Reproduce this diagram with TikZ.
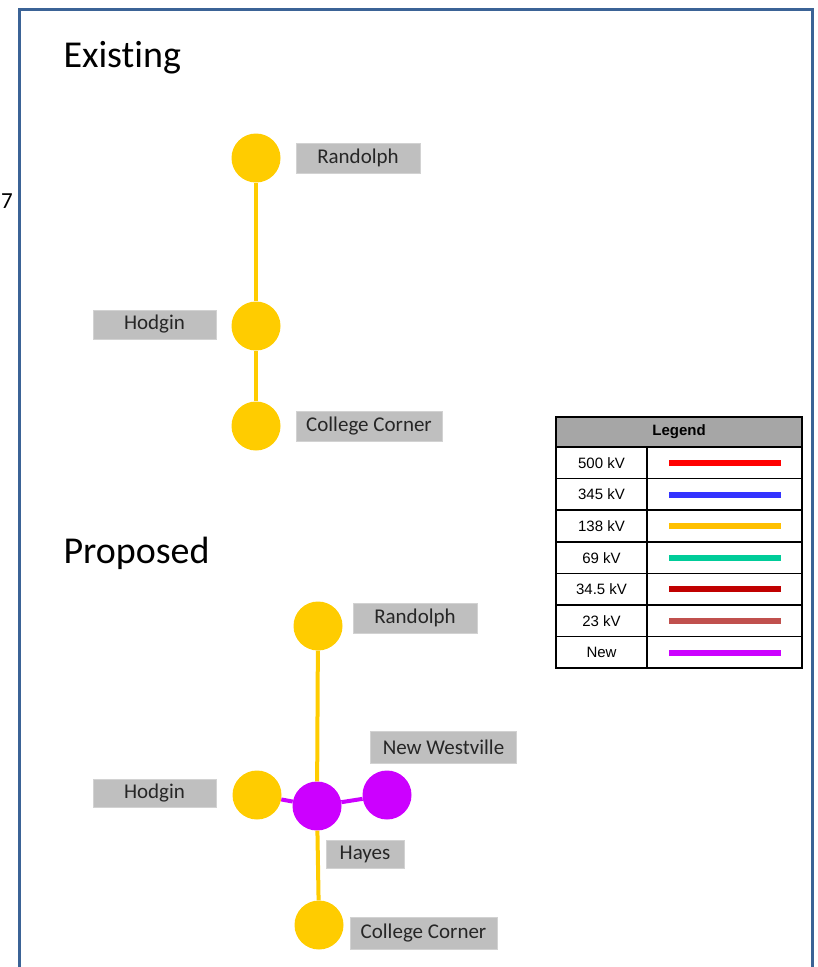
\documentclass[tikz,border=0pt]{standalone}
\usepackage{fontspec}
\setmainfont{Carlito}[Ligatures={NoCommon}]
\newfontfamily\legendfont{Liberation Sans}
\definecolor{frameblue}{HTML}{3B6396}
\definecolor{busyellow}{HTML}{FFCC00}
\definecolor{buspurple}{HTML}{CC00FF}
\definecolor{namegray}{HTML}{BFBFBF}
\definecolor{headgray}{HTML}{A6A6A6}
\definecolor{kvfivehundred}{HTML}{FF0000}
\definecolor{kvthreefortyfive}{HTML}{3333FF}
\definecolor{kvonethirtyeight}{HTML}{FFC000}
\definecolor{kvsixtynine}{HTML}{00CC99}
\definecolor{kvthirtyfour}{HTML}{C00000}
\definecolor{kvtwentythree}{HTML}{C0504D}
\definecolor{kvnew}{HTML}{CC00FF}

\begin{document}
\begin{tikzpicture}[x=1pt,y=-1pt]
    \tikzset{BusStyle/.style = {%
        shape= circle,
        inner sep= 0pt,
        minimum size = 49pt},
      OldBus/.style = {BusStyle, fill= busyellow},
      NewBus/.style = {BusStyle, fill= buspurple},
      NameBox/.style = {fill= namegray, draw= namegray!70!white,
        inner sep= 0pt, text= black!85,
        font= \fontsize{21}{21}\selectfont},
      Heading/.style = {anchor= base west, font= \fontsize{38}{38}\selectfont},
      LineOld/.style = {draw= busyellow, line width= 4pt},
      LineNew/.style = {draw= buspurple, line width= 4pt}}
    \useasboundingbox (0,0) rectangle (818,967);
    \clip (0,0) rectangle (818,967);
    \draw[frameblue, line width=3pt] (19,9) rectangle (812,995);
    \node[anchor=base east, inner sep=0pt, font=\fontsize{23}{23}\selectfont] (cut) at (13,208) {7};
    % existing
    \node[Heading] (existing) at (60,67) {Existing};
    \node[OldBus] (eRandolph) at (256,158) {};
    \node[OldBus] (eHodgin) at (256,326) {};
    \node[OldBus] (eCollege) at (256,426) {};
    \node[NameBox, minimum width=124pt, minimum height=30pt] (eRandolphName) at (358,158) {Randolph};
    \node[NameBox, minimum width=123pt, minimum height=29pt] (eHodginName) at (154.5,324.5) {Hodgin};
    \node[NameBox, minimum width=146pt, minimum height=30pt] (eCollegeName) at (369,426) {College Corner};
    \draw[LineOld] (eRandolph) -- (eHodgin);
    \draw[LineOld] (eHodgin) -- (eCollege);
    % proposed
    \node[Heading] (proposed) at (60,563) {Proposed};
    \node[OldBus] (pRandolph) at (318,626) {};
    \node[OldBus] (pHodgin) at (257,795) {};
    \node[NewBus] (pHayes) at (317,806) {};
    \node[NewBus] (pWestville) at (387,795) {};
    \node[OldBus] (pCollege) at (319,925) {};
    \node[NameBox, minimum width=124pt, minimum height=30pt] (pRandolphName) at (415,618) {Randolph};
    \node[NameBox, minimum width=146pt, minimum height=32pt] (pWestvilleName) at (443.5,747.5) {New Westville};
    \node[NameBox, minimum width=123pt, minimum height=28pt] (pHodginName) at (154.5,793) {Hodgin};
    \node[NameBox, minimum width=78pt, minimum height=28pt] (pHayesName) at (365,854) {Hayes};
    \node[NameBox, minimum width=147pt, minimum height=32pt] (pCollegeName) at (423.5,933) {College Corner};
    \draw[LineOld] (pRandolph) -- (pHayes);
    \draw[LineOld] (pHayes) -- (pCollege);
    \draw[LineNew] (pHodgin) -- (pHayes);
    \draw[LineNew] (pHayes) -- (pWestville);
    % legend
    \fill[headgray] (556,417) rectangle (802,447);
    \node[font=\legendfont\bfseries\fontsize{15}{15}\selectfont] (legendhead) at (679,432) {Legend};
    \foreach \kv/\col [count=\i] in {500 kV/kvfivehundred, 345 kV/kvthreefortyfive,
        138 kV/kvonethirtyeight, 69 kV/kvsixtynine, 34.5 kV/kvthirtyfour,
        23 kV/kvtwentythree, New/kvnew}{
      \draw[line width=1.5pt] (556,447+31.6*\i-31.6) -- (802,447+31.6*\i-31.6);
      \node[font=\legendfont\fontsize{15}{15}\selectfont] (kv\i) at (601.5,463+31.6*\i-31.6) {\kv};
      \draw[\col, line width=6pt] (669,463+31.6*\i-31.6) -- (781,463+31.6*\i-31.6);
    }
    \draw[line width=1.5pt] (647,447) -- (647,668);
    \draw[line width=1.5pt] (556,417) rectangle (802,668);
\end{tikzpicture}
\end{document}
